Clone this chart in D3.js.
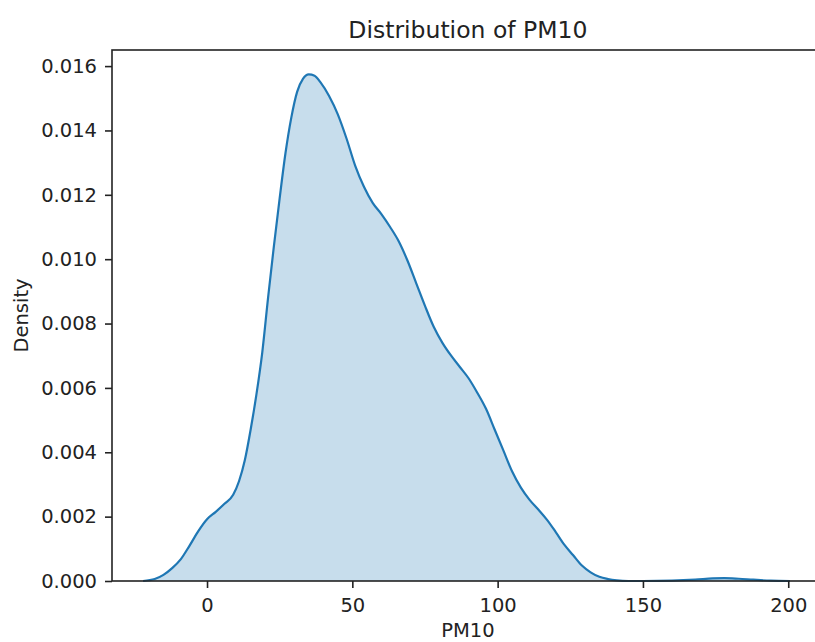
<!DOCTYPE html>
<html>
<head>
<meta charset="utf-8">
<script src="https://cdn.jsdelivr.net/npm/d3@7"></script>
<style>
  body { margin: 0; background: #fff; }
  svg { display: block; font-family: "DejaVu Sans", sans-serif; }
</style>
</head>
<body>
<script>
    // Data: KDE of PM10
    var pm10 = [-22, -18, -15, -12, -9, -6, -3, 0, 3, 6, 9, 11, 13, 15, 17, 19, 21, 23, 25, 27, 29, 31, 33, 35, 37, 39,
                42, 45, 48, 51, 54, 57, 60, 63, 66, 69, 72, 75, 78, 81, 84, 87, 90, 93, 96, 99, 102, 105, 108, 111,
                114, 117, 120, 123, 126, 129, 132, 135, 138, 141, 145, 150, 160, 168, 174, 178, 183, 188, 194, 200.6];
    var density = [0, 0.00006, 0.00019, 0.00040, 0.00068, 0.00110, 0.00155, 0.00192, 0.00215, 0.00240, 0.00268, 0.00310,
                   0.00375, 0.00470, 0.00580, 0.00710, 0.00880, 0.01040, 0.01190, 0.01330, 0.01440, 0.01520, 0.01560,
                   0.01574, 0.01570, 0.01550, 0.01507, 0.01450, 0.01375, 0.01290, 0.01225, 0.01175, 0.01140, 0.01100,
                   0.01055, 0.00995, 0.00925, 0.00855, 0.00790, 0.00740, 0.00700, 0.00665, 0.00630, 0.00585, 0.00535,
                   0.00470, 0.00405, 0.00340, 0.00290, 0.00252, 0.00222, 0.00190, 0.00152, 0.00112, 0.00080, 0.00048,
                   0.00027, 0.00013, 0.00006, 0.00002, 0, 0, 0.00001, 0.00004, 0.00008, 0.00009, 0.00007, 0.00004,
                   0.00001, 0];
    var xTicks = [0, 50, 100, 150, 200];
    var yTicks = [0, 0.002, 0.004, 0.006, 0.008, 0.010, 0.012, 0.014, 0.016];

    var w = 815;
    var h = 642;
    var plotLeft = 112, plotTop = 50, plotRight = 823.7, plotBottom = 581;
    var blue = "#1f77b4";

    var data = pm10.map((x, i) => ({x: x, y: density[i]}));

    var x = d3.scaleLinear().domain([-32.7, 212.2]).range([plotLeft, plotRight]);
    var y = d3.scaleLinear().domain([0, 0.0165]).range([plotBottom, plotTop]);

    var svg = d3.select("body")
        .append("svg")
        .attr("width", w)
        .attr("height", h);

    // filled density area + outline
    var area = d3.area()
        .x(d => x(d.x))
        .y0(y(0))
        .y1(d => y(d.y))
        .curve(d3.curveMonotoneX);

    var line = d3.line()
        .x(d => x(d.x))
        .y(d => y(d.y))
        .curve(d3.curveMonotoneX);

    svg.append("path")
        .datum(data)
        .attr("d", area)
        .attr("fill", blue)
        .attr("fill-opacity", 0.25);

    svg.append("path")
        .datum(data)
        .attr("d", line)
        .attr("fill", "none")
        .attr("stroke", blue)
        .attr("stroke-width", 2.2);

    // axes
    var xAxis = svg.append("g")
        .attr("transform", `translate(0, ${plotBottom})`)
        .call(d3.axisBottom(x).tickValues(xTicks).tickSize(7).tickPadding(10).tickSizeOuter(0));

    var yAxis = svg.append("g")
        .attr("transform", `translate(${plotLeft}, 0)`)
        .call(d3.axisLeft(y).tickValues(yTicks).tickFormat(d3.format(".3f")).tickSize(7).tickPadding(8).tickSizeOuter(0));

    [xAxis, yAxis].forEach(function (g) {
        g.select(".domain").remove();
        g.selectAll(".tick line").attr("stroke", "#222").attr("stroke-width", 1.6);
        g.selectAll(".tick text").attr("fill", "#222").style("font-size", "19.5px")
            .style("font-family", "DejaVu Sans, sans-serif");
    });

    // spines
    svg.append("rect")
        .attr("x", plotLeft)
        .attr("y", plotTop)
        .attr("width", plotRight - plotLeft)
        .attr("height", plotBottom - plotTop)
        .attr("fill", "none")
        .attr("stroke", "#222")
        .attr("stroke-width", 1.6);

    // labels
    svg.append("text")
        .attr("x", (plotLeft + plotRight) / 2)
        .attr("y", 38)
        .attr("text-anchor", "middle")
        .style("font-size", "23.5px")
        .attr("fill", "#222")
        .text("Distribution of PM10");

    svg.append("text")
        .attr("x", (plotLeft + plotRight) / 2)
        .attr("y", 637)
        .attr("text-anchor", "middle")
        .style("font-size", "19.5px")
        .attr("fill", "#222")
        .text("PM10");

    svg.append("text")
        .attr("transform", `translate(28, ${(plotTop + plotBottom) / 2}) rotate(-90)`)
        .attr("text-anchor", "middle")
        .style("font-size", "19.5px")
        .attr("fill", "#222")
        .text("Density");
</script>
</body>
</html>
